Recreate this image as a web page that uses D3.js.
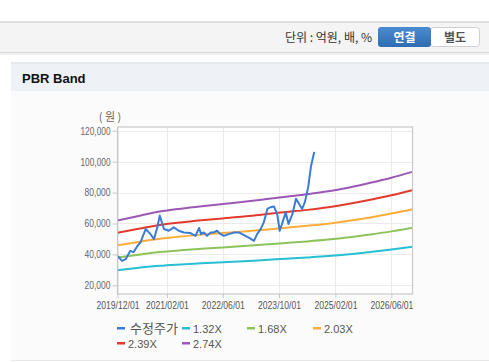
<!DOCTYPE html>
<html>
<head>
<meta charset="utf-8">
<script src="https://cdn.jsdelivr.net/npm/d3@7"></script>
<style>
  body { margin: 0; background: #fff; }
  svg { display: block; font-family: "Liberation Sans", Arial, "Noto Sans CJK KR", sans-serif; }
</style>
</head>
<body>
<div id="chart"></div>
<script>
// --- Data ---
const xTickDates = ["2019-12-01", "2021-02-01", "2022-06-01", "2023-10-01", "2025-02-01", "2026-06-01"];
const xTickLabels = ["2019/12/01", "2021/02/01", "2022/06/01", "2023/10/01", "2025/02/01", "2026/06/01"];
const yTicks = [20000, 40000, 60000, 80000, 100000, 120000];

// band dates (half-yearly)
const bandDates = ["2019-12-01", "2020-06-01", "2020-12-01", "2021-06-01", "2021-12-01", "2022-06-01",
  "2022-12-01", "2023-06-01", "2023-12-01", "2024-06-01", "2024-12-01", "2025-06-01",
  "2025-12-01", "2026-06-01", "2026-12-01"];
const band132 = [29800, 31300, 32600, 33500, 34300, 35000, 35600, 36400, 37200, 38000, 38900, 40100, 41600, 43200, 45000];
const band168 = [38000, 39800, 41500, 42700, 43700, 44500, 45400, 46400, 47400, 48400, 49600, 51100, 52900, 54900, 57300];
const band203 = [45900, 48100, 50100, 51600, 52800, 53800, 54800, 56000, 57200, 58500, 59900, 61700, 63900, 66400, 69200];
const band239 = [54000, 56600, 59000, 60700, 62100, 63300, 64500, 66000, 67400, 68800, 70500, 72700, 75300, 78200, 81500];
const band274 = [61900, 64900, 67700, 69600, 71200, 72600, 74000, 75600, 77300, 78900, 80800, 83300, 86300, 89600, 93400];

// 수정주가 (adjusted price)
const priceDates = ["2019-12-01", "2020-01-10", "2020-02-10", "2020-03-20", "2020-04-18", "2020-05-18",
  "2020-06-18", "2020-08-01", "2020-09-12", "2020-10-12", "2020-11-10", "2020-12-01", "2021-01-07",
  "2021-02-18", "2021-04-01", "2021-05-15", "2021-06-28", "2021-08-25", "2021-10-07", "2021-11-07",
  "2021-11-25", "2021-12-18", "2022-01-15", "2022-02-15", "2022-03-15", "2022-04-12", "2022-05-12",
  "2022-06-10", "2022-07-22", "2022-09-07", "2022-10-18", "2022-11-15", "2022-12-15", "2023-01-12",
  "2023-02-26", "2023-03-25", "2023-04-25", "2023-05-22", "2023-06-22", "2023-07-18", "2023-08-18",
  "2023-09-15", "2023-10-07", "2023-10-28", "2023-11-28", "2023-12-22", "2024-01-25", "2024-02-25",
  "2024-03-22", "2024-04-18", "2024-05-12", "2024-06-10", "2024-07-03", "2024-08-01"];
const priceValues = [39000, 35800, 36900, 42300, 41500, 45000,
  48000, 56400, 53100, 49800, 57500, 65100, 56400,
  55300, 57500, 55300, 54200, 53800, 52000, 57100,
  53100, 54200, 52000, 54200, 54200, 55300, 53100,
  52000, 53100, 54200, 54200, 53100, 52000, 50900,
  48800, 53100, 56400, 60700, 69400, 70500, 71000,
  66000, 55300, 60000, 67200, 59700, 66000, 76000,
  72700, 69400, 73800, 83500, 96500, 106300];

const seriesNames = ["수정주가", "1.32X", "1.68X", "2.03X", "2.39X", "2.74X"];
const seriesColors = ["#3a7bd5", "#27bfd3", "#8cc35a", "#ffac3a", "#e23b2e", "#9b58b5"];

// --- Layout ---
const width = 489, height = 362;
const plot = { left: 117.5, right: 412.5, top: 127, bottom: 294 };
const parse = d3.timeParse("%Y-%m-%d");

const svg = d3.select("#chart").append("svg")
  .attr("width", width)
  .attr("height", height);

// --- Page chrome ---
svg.append("rect").attr("x", 0).attr("y", 21).attr("width", width).attr("height", 31).attr("fill", "#f4f4f4");
svg.append("rect").attr("x", 0).attr("y", 21).attr("width", width).attr("height", 2).attr("fill", "#e0e0e0");
svg.append("rect").attr("x", 0).attr("y", 52).attr("width", width).attr("height", 1).attr("fill", "#dadada");
svg.append("rect").attr("x", 0).attr("y", 53).attr("width", width).attr("height", 2).attr("fill", "#f0f0f0");

svg.append("text")
  .attr("x", 372).attr("y", 42)
  .attr("text-anchor", "end")
  .attr("fill", "#333")
  .style("font-size", "12px")
  .style("font-family", "'Noto Sans CJK KR', sans-serif")
  .text("단위 : 억원, 배, %");

const grad = svg.append("defs").append("linearGradient")
  .attr("id", "btnGrad").attr("x1", 0).attr("x2", 0).attr("y1", 0).attr("y2", 1);
grad.append("stop").attr("offset", "0%").attr("stop-color", "#4b8bd0");
grad.append("stop").attr("offset", "100%").attr("stop-color", "#2f6db3");

svg.append("rect").attr("x", 430.5).attr("y", 27.5).attr("width", 49).attr("height", 19)
  .attr("rx", 3).attr("fill", "#fff").attr("stroke", "#cfcfcf");
svg.append("rect").attr("x", 378).attr("y", 27).attr("width", 53).attr("height", 20)
  .attr("rx", 3).attr("fill", "url(#btnGrad)");
svg.append("text").attr("x", 404.5).attr("y", 42).attr("text-anchor", "middle")
  .attr("fill", "#fff").style("font-size", "12px").style("font-weight", "bold")
  .style("font-family", "'Noto Sans CJK KR', sans-serif").text("연결");
svg.append("text").attr("x", 455).attr("y", 42).attr("text-anchor", "middle")
  .attr("fill", "#555").style("font-size", "12px").style("font-weight", "bold")
  .style("font-family", "'Noto Sans CJK KR', sans-serif").text("별도");

// section header + body
svg.append("rect").attr("x", 11).attr("y", 62).attr("width", width - 11).attr("height", 29).attr("fill", "#eef1f5");
svg.append("rect").attr("x", 11).attr("y", 62).attr("width", width - 11).attr("height", 2).attr("fill", "#e4e7eb");
svg.append("rect").attr("x", 11).attr("y", 91).attr("width", width - 11).attr("height", 269).attr("fill", "#fbfbfb");
svg.append("rect").attr("x", 11).attr("y", 360).attr("width", width - 11).attr("height", 1).attr("fill", "#e8e8e8");
svg.append("text").attr("x", 22).attr("y", 83)
  .attr("fill", "#111").style("font-size", "13px").style("font-weight", "bold")
  .style("font-family", "'Liberation Sans', Arial, sans-serif")
  .text("PBR Band");

// --- Scales ---
const x = d3.scaleTime()
  .domain([parse("2019-12-01"), parse("2026-12-01")])
  .range([plot.left, plot.right]);
const y = d3.scaleLinear()
  .domain([14400, 122400])
  .range([plot.bottom, plot.top]);

const g = svg.append("g");

// plot background
g.append("rect").attr("x", plot.left).attr("y", plot.top)
  .attr("width", plot.right - plot.left).attr("height", plot.bottom - plot.top)
  .attr("fill", "#fff");

// grid
g.append("g").selectAll("line").data(yTicks).enter().append("line")
  .attr("x1", plot.left).attr("x2", plot.right)
  .attr("y1", d => Math.round(y(d)) + 0.5).attr("y2", d => Math.round(y(d)) + 0.5)
  .attr("stroke", "#ebebeb");
g.append("g").selectAll("line").data(xTickDates).enter().append("line")
  .attr("y1", plot.top).attr("y2", plot.bottom)
  .attr("x1", d => Math.round(x(parse(d))) + 0.5).attr("x2", d => Math.round(x(parse(d))) + 0.5)
  .attr("stroke", "#ebebeb");

// axes
const yAxis = d3.axisLeft(y).tickValues(yTicks).tickSize(5).tickPadding(2)
  .tickFormat(d3.format(","));
const yG = svg.append("g").attr("transform", `translate(${plot.left},0)`).call(yAxis);
yG.select(".domain").remove();
yG.selectAll("line").attr("stroke", "#c8c8c8");
yG.selectAll("text").attr("fill", "#666").style("font-size", "10.5px")
  .style("font-family", "'Liberation Sans', Arial, sans-serif")
  .attr("textLength", d => d >= 100000 ? 30 : 26).attr("lengthAdjust", "spacingAndGlyphs");

const xAxis = d3.axisBottom(x).tickValues(xTickDates.map(parse)).tickSize(4).tickPadding(4)
  .tickFormat((d, i) => xTickLabels[i]);
const xG = svg.append("g").attr("transform", `translate(0,${plot.bottom})`).call(xAxis);
xG.select(".domain").remove();
xG.selectAll("line").attr("stroke", "#c8c8c8");
xG.selectAll("text").attr("fill", "#555").style("font-size", "10.5px")
  .style("font-family", "'Liberation Sans', Arial, sans-serif")
  .attr("textLength", 43).attr("lengthAdjust", "spacingAndGlyphs");

svg.append("text").attr("x", 110).attr("y", 121).attr("text-anchor", "middle")
  .attr("fill", "#666").style("font-size", "11px")
  .style("font-family", "'Noto Sans CJK KR', sans-serif")
  .text("( 원 )");

// --- Lines ---
const line = d3.line().x(d => x(d[0])).y(d => y(d[1]));
const bands = [band132, band168, band203, band239, band274];
const bandDatesParsed = bandDates.map(parse);

const lines = g.append("g").attr("fill", "none").attr("stroke-width", 2).attr("stroke-linejoin", "round");
bands.forEach((vals, i) => {
  lines.append("path")
    .datum(vals.map((v, j) => [bandDatesParsed[j], v]))
    .attr("stroke", seriesColors[i + 1])
    .attr("d", line.curve(d3.curveMonotoneX));
});
lines.append("path")
  .datum(priceValues.map((v, j) => [parse(priceDates[j]), v]))
  .attr("stroke", seriesColors[0])
  .attr("d", line.curve(d3.curveLinear));

// plot border
svg.append("rect").attr("x", plot.left).attr("y", plot.top)
  .attr("width", plot.right - plot.left).attr("height", plot.bottom - plot.top)
  .attr("fill", "none").attr("stroke", "#c8c8c8").attr("stroke-width", 1.2);

// --- Legend ---
const legendPos = [[117, 328], [182, 328], [247, 328], [313, 328], [117, 343], [182, 343]];
const legend = svg.append("g").selectAll("g").data(seriesNames).enter().append("g")
  .attr("transform", (d, i) => `translate(${legendPos[i][0]},${legendPos[i][1]})`);
legend.append("rect").attr("x", 0).attr("y", -1).attr("width", 8).attr("height", 2.5)
  .attr("fill", (d, i) => seriesColors[i]);
legend.append("text").attr("x", (d, i) => i === 0 ? 13 : 11).attr("y", 4.5)
  .attr("fill", "#555")
  .style("font-size", (d, i) => i === 0 ? "13px" : "11px")
  .style("font-family", (d, i) => i === 0 ? "'Noto Sans CJK KR', sans-serif" : "'Liberation Sans', Arial, sans-serif")
  .text(d => d);
</script>
</body>
</html>
